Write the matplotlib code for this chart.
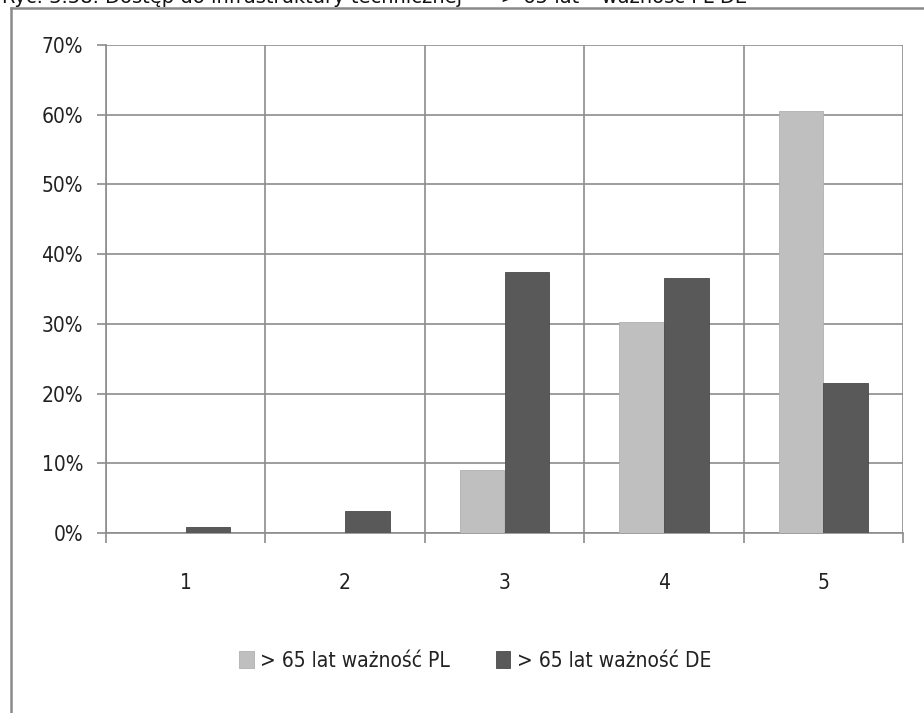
import matplotlib
matplotlib.use("Agg")
import matplotlib.pyplot as plt
import numpy as np
from matplotlib.lines import Line2D

categories = ["1", "2", "3", "4", "5"]
pl_values = [0.0, 0.0, 9.1, 30.3, 60.5]
de_values = [0.9, 3.2, 37.5, 36.6, 21.5]
series_labels = ["> 65 lat ważność PL", "> 65 lat ważność DE"]
yticks = [0, 10, 20, 30, 40, 50, 60, 70]
title = "Ryc. 3.58. Dostęp do infrastruktury technicznej  — > 65 lat – ważność PL DE"

FONT = dict(family="DejaVu Sans", fontstretch="condensed")
grid_c = "#8c8c8c"

fig = plt.figure(figsize=(9.24, 7.13), dpi=100)
ax = fig.add_axes([106/924, 1-533/713, 797/924, 488/713])

x = np.arange(len(categories))
w = 0.28
ax.bar(x - w/2, pl_values, w, color="#bfbfbf", edgecolor="#b0b0b0", linewidth=0.6, label=series_labels[0], zorder=3)
ax.bar(x + w/2, de_values, w, color="#595959", edgecolor="#4a4a4a", linewidth=0.6, label=series_labels[1], zorder=3)

ax.set_xlim(-0.5, len(categories) - 0.5)
ax.set_ylim(0, 70)
ax.set_yticks(yticks)
ax.set_yticklabels([f"{v}%" for v in yticks], fontsize=15, color="#222222", **FONT)
ax.set_xticks(x)
ax.set_xticklabels(categories, fontsize=15, color="#222222", **FONT)
ax.set_xticks(np.arange(len(categories) + 1) - 0.5, minor=True)

ax.tick_params(axis="x", which="major", length=0, pad=29)
ax.tick_params(axis="x", which="minor", length=7, width=1.2, color=grid_c, direction="out")
ax.tick_params(axis="y", which="major", length=6.5, width=1.2, color=grid_c, pad=10)

ax.grid(axis="y", which="major", color=grid_c, linewidth=1.2, zorder=0)
ax.grid(axis="x", which="minor", color=grid_c, linewidth=1.2, zorder=0)
for s in ["top", "right"]:
    ax.spines[s].set_visible(False)
ax.spines["left"].set_color(grid_c)
ax.spines["bottom"].set_color(grid_c)
ax.spines["left"].set_linewidth(1.2)
ax.spines["bottom"].set_linewidth(1.2)
ax.set_axisbelow(True)

leg = fig.legend(loc="center", bbox_to_anchor=(475/924, 1-661/713), ncol=2, frameon=False,
                 prop=dict(size=15, family="DejaVu Sans", stretch="condensed"),
                 handlelength=0.7, handleheight=0.9,
                 handletextpad=0.3, columnspacing=2.2)
for t in leg.get_texts():
    t.set_color("#222222")

# outer frame (left and top edges visible)
fig.add_artist(Line2D([11/924, 11/924], [0, 1-8/713], transform=fig.transFigure, color="#8a8a8a", linewidth=1.8))
fig.add_artist(Line2D([11/924, 1], [1-8/713, 1-8/713], transform=fig.transFigure, color="#8a8a8a", linewidth=1.8))

# title, partly cut off at the top edge as in the reference
fig.text(2/924, 1-3/713, title, fontsize=14, color="#111111", va="baseline", ha="left", family="DejaVu Sans")

fig.savefig("out.png", dpi=100)
